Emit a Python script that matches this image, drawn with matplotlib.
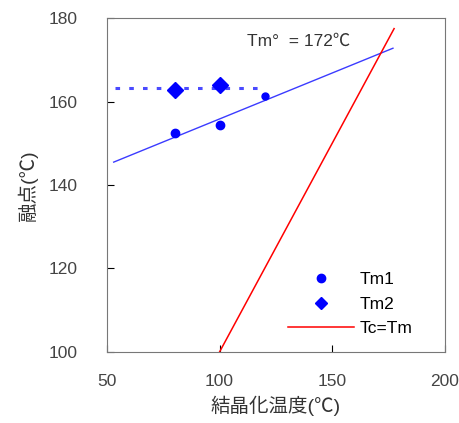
import matplotlib
matplotlib.use('Agg')
import matplotlib.pyplot as plt

plt.rcParams['font.family'] = ['Liberation Sans', 'Noto Sans CJK JP', 'DejaVu Sans']

# data
tm1_x = [80, 100, 120]
tm1_y = [152.5, 154.5, 161.3]
tm2_x = [80, 100]
tm2_y = [162.8, 164.0]
tm2_line_x = [53.5, 120]
tm2_line_y = [163.3, 163.3]
fit_x = [53, 177]
fit_y = [145.5, 172.8]
tcm_x = [100, 177.5]
tcm_y = [100, 177.5]
xticks = [50, 100, 150, 200]
yticks = [100, 120, 140, 160, 180]

fig = plt.figure(figsize=(4.59, 4.23), dpi=100)
ax = fig.add_axes([0.233, 0.168, 0.736, 0.789])

ax.plot(tm2_line_x, tm2_line_y, color='#4a4aff', ls=(0, (1.5, 3)), lw=2.2)
ax.plot(fit_x, fit_y, color='#3b3bff', lw=1)
l3, = ax.plot(tcm_x, tcm_y, color='red', lw=1.1, label='Tc=Tm')
ax.plot(tm1_x[:2], tm1_y[:2], 'o', color='blue', ms=6, ls='none')
ax.plot(tm1_x[2:], tm1_y[2:], 'o', color='blue', ms=5, ls='none')
l1, = ax.plot([], [], 'o', color='blue', ms=6, ls='none')
l2, = ax.plot(tm2_x, tm2_y, 'D', color='blue', ms=8, ls='none', label='Tm2')
l2h, = ax.plot([], [], 'D', color='blue', ms=6, ls='none')

ax.text(112, 173.5, 'Tm\u00b0  = 172\u2103', fontsize=12.5, color='#333333')

ax.set_xlim(50, 200)
ax.set_ylim(100, 180)
ax.set_xticks(xticks)
ax.set_yticks(yticks)
ax.tick_params(axis='x', direction='in', length=5, labelsize=12.5, labelcolor='#444444', pad=16)
ax.tick_params(axis='y', direction='in', length=5, labelsize=12.5, labelcolor='#444444', pad=21)
for s in ax.spines.values():
    s.set_color('#777777')

ax.set_xlabel('結晶化温度(℃)', fontsize=14, color='#333333', labelpad=5)
ax.set_ylabel('融点(℃)', fontsize=14, color='#333333', labelpad=8)

ax.legend([l1, l2h, l3], ['Tm1', 'Tm2', 'Tc=Tm'], loc='lower right', frameon=False,
          fontsize=12.5, handlelength=3.8, handletextpad=0.3,
          bbox_to_anchor=(0.95, 0.0), labelspacing=0.55)

fig.savefig('out.png', dpi=100)
